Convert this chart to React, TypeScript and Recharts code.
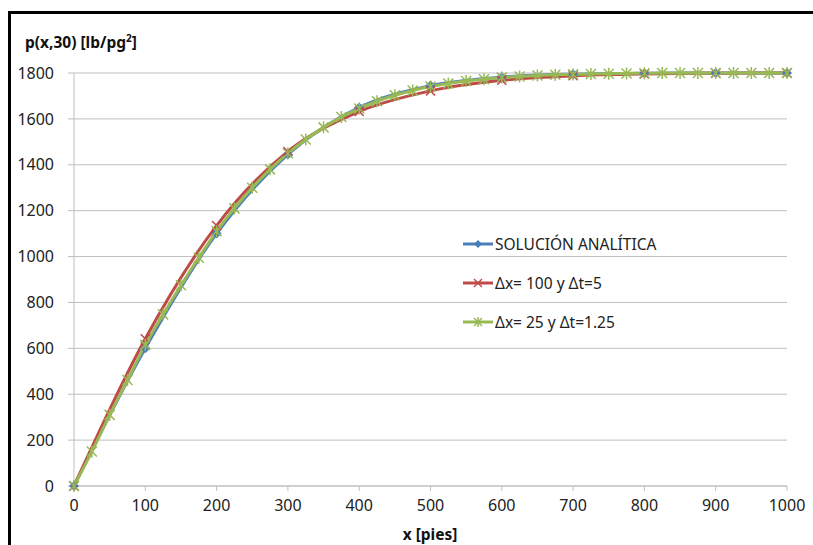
import React from 'react';
import { CartesianGrid, Line, LineChart, XAxis, YAxis } from 'recharts';

// x positions [pies]
const xCoarse = [0, 100, 200, 300, 400, 500, 600, 700, 800, 900, 1000];
const xFine = [
  0, 25, 50, 75, 100, 125, 150, 175, 200, 225, 250, 275, 300, 325, 350, 375, 400, 425, 450, 475,
  500, 525, 550, 575, 600, 625, 650, 675, 700, 725, 750, 775, 800, 825, 850, 875, 900, 925, 950,
  975, 1000,
];

// p(x,30) [lb/pg2]
const analitica = [0, 600, 1100, 1445, 1650, 1745, 1782, 1795, 1799, 1800, 1800];
const dx100 = [0, 642, 1135, 1458, 1632, 1722, 1768, 1788, 1796, 1799, 1800];
const dx25 = [
  0, 150, 310, 462, 615, 748, 875, 995, 1110, 1210, 1300, 1380, 1450, 1510, 1563, 1608, 1645, 1677,
  1703, 1724, 1741, 1754, 1765, 1773, 1780, 1785, 1789, 1792, 1794, 1796, 1797, 1798, 1799, 1800,
  1800, 1800, 1800, 1800, 1800, 1800, 1800,
];

const xTicks = [0, 100, 200, 300, 400, 500, 600, 700, 800, 900, 1000];
const yTicks = [0, 200, 400, 600, 800, 1000, 1200, 1400, 1600, 1800];

const BLUE = '#4A7EBB';
const RED = '#BE4B48';
const GREEN = '#98B954';
const GRID = '#BFBFBF';
const FONT = '"Noto Sans", sans-serif';

const seriesA = xCoarse.map((x, i) => ({ x, p: analitica[i] }));
const seriesB = xCoarse.map((x, i) => ({ x, p: dx100[i] }));
const seriesC = xFine.map((x, i) => ({ x, p: dx25[i] }));

const Diamond = ({ cx, cy, s = 5 }: any) => (
  <polygon points={`${cx},${cy - s} ${cx + s},${cy} ${cx},${cy + s} ${cx - s},${cy}`} fill={BLUE} />
);

const Cross = ({ cx, cy, s = 4.5, color = RED }: any) => (
  <g stroke={color} strokeWidth={1.5}>
    <line x1={cx - s} y1={cy - s} x2={cx + s} y2={cy + s} />
    <line x1={cx - s} y1={cy + s} x2={cx + s} y2={cy - s} />
  </g>
);

const Star = ({ cx, cy, s = 5 }: any) => (
  <g stroke={GREEN} strokeWidth={1.5}>
    <line x1={cx - s} y1={cy - s} x2={cx + s} y2={cy + s} />
    <line x1={cx - s} y1={cy + s} x2={cx + s} y2={cy - s} />
    <line x1={cx} y1={cy - s - 1} x2={cx} y2={cy + s + 1} />
  </g>
);

const legendItems = [
  { label: 'SOLUCIÓN ANALÍTICA', color: BLUE, marker: 'diamond' },
  { label: 'Δx= 100 y Δt=5', color: RED, marker: 'cross' },
  { label: 'Δx= 25 y Δt=1.25', color: GREEN, marker: 'star' },
];

function ChartLegend() {
  return (
    <div style={{ position: 'absolute', left: 463, top: 224, fontFamily: FONT, fontSize: 15.5, color: '#222' }}>
      {legendItems.map((it) => (
        <div key={it.label} style={{ display: 'flex', alignItems: 'center', height: 39 }}>
          <svg width={31} height={14} style={{ marginRight: 1 }}>
            <line x1={0} y1={7} x2={30} y2={7} stroke={it.color} strokeWidth={3} />
            {it.marker === 'diamond' && <Diamond cx={15} cy={7} s={4} />}
            {it.marker === 'cross' && <Cross cx={15} cy={7} s={4} />}
            {it.marker === 'star' && <Star cx={15} cy={7} s={4} />}
          </svg>
          <span style={{ whiteSpace: 'nowrap' }}>{it.label}</span>
        </div>
      ))}
    </div>
  );
}

export default function App() {
  return (
    <div style={{ position: 'absolute', left: 0, top: 0, width: 813, height: 545, background: '#fff', overflow: 'hidden' }}>
      <div
        style={{
          position: 'absolute',
          left: 8,
          top: 11,
          right: -10,
          bottom: -10,
          borderTop: '3px solid #000',
          borderLeft: '3px solid #000',
        }}
      />
      <div
        style={{
          position: 'absolute',
          left: 25,
          top: 31,
          fontFamily: FONT,
          fontSize: 15.5,
          fontWeight: 700,
          color: '#111',
          whiteSpace: 'nowrap',
        }}
      >
        p(x,30) [lb/pg<sup style={{ fontSize: 10 }}>2</sup>]
      </div>
      <div style={{ position: 'absolute', left: 0, top: 0 }}>
        <LineChart width={813} height={545} margin={{ top: 73, right: 26, bottom: 29, left: 12 }}>
          <CartesianGrid vertical={false} stroke={GRID} strokeWidth={1} />
          <XAxis
            type="number"
            dataKey="x"
            domain={[0, 1000]}
            ticks={xTicks}
            height={30}
            tickSize={5}
            tickMargin={9}
            axisLine={{ stroke: GRID }}
            tickLine={{ stroke: GRID }}
            tick={{ fontSize: 16, fill: '#222', fontFamily: FONT }}
            allowDuplicatedCategory={false}
          />
          <YAxis
            type="number"
            domain={[0, 1800]}
            ticks={yTicks}
            width={62}
            tickSize={6}
            tickMargin={14}
            axisLine={{ stroke: GRID }}
            tickLine={{ stroke: GRID }}
            tick={{ fontSize: 16, fill: '#222', fontFamily: FONT }}
          />
          <Line
            data={seriesA}
            dataKey="p"
            type="monotone"
            stroke={BLUE}
            strokeWidth={3}
            dot={(props: any) => <Diamond key={`a-${props.index}`} cx={props.cx} cy={props.cy} />}
            activeDot={false}
            isAnimationActive={false}
          />
          <Line
            data={seriesB}
            dataKey="p"
            type="monotone"
            stroke={RED}
            strokeWidth={3}
            dot={(props: any) => <Cross key={`b-${props.index}`} cx={props.cx} cy={props.cy} />}
            activeDot={false}
            isAnimationActive={false}
          />
          <Line
            data={seriesC}
            dataKey="p"
            type="monotone"
            stroke={GREEN}
            strokeWidth={3}
            dot={(props: any) => <Star key={`c-${props.index}`} cx={props.cx} cy={props.cy} />}
            activeDot={false}
            isAnimationActive={false}
          />
        </LineChart>
      </div>
      <ChartLegend />
      <div
        style={{
          position: 'absolute',
          left: 330,
          width: 200,
          top: 524,
          textAlign: 'center',
          fontFamily: FONT,
          fontSize: 15.5,
          fontWeight: 700,
          lineHeight: '20px',
          color: '#111',
        }}
      >
        x [pies]
      </div>
    </div>
  );
}
